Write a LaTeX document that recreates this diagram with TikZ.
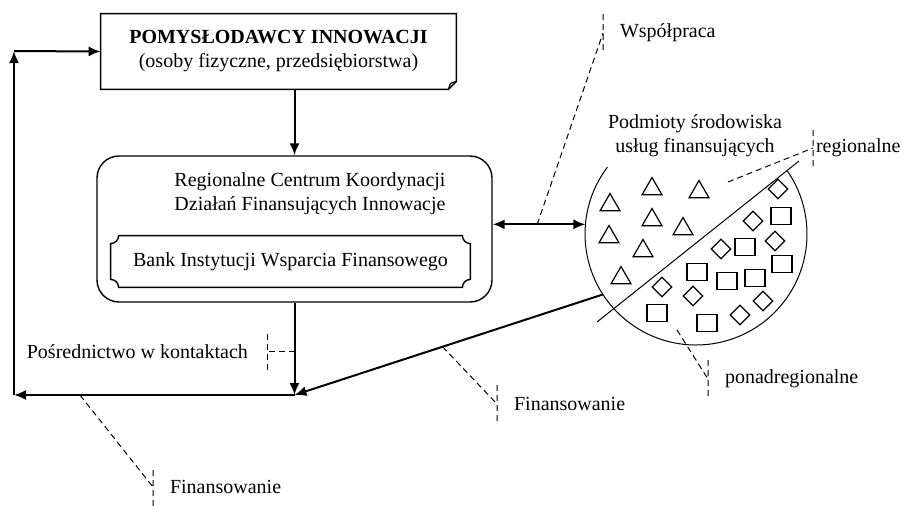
\documentclass[tikz,border=0pt]{standalone}
\usepackage{fontspec}
\setmainfont{Liberation Serif}
\usetikzlibrary{arrows.meta,shapes.geometric}
\tikzset{
 flow/.style={line width=1pt,-{Latex[length=6pt,width=5pt]}},
 twoway/.style={line width=1pt,{Latex[length=6pt,width=5pt]}-{Latex[length=6pt,width=5pt]}},
 leader/.style={dash pattern=on 3pt off 2pt,line width=0.5pt},
 lbl/.style={right,xshift=5pt},
 tri/.style={draw,line width=0.6pt,regular polygon,regular polygon sides=3,minimum size=11.5pt,inner sep=0pt},
 dia/.style={draw,line width=0.6pt,diamond,minimum size=10pt,inner sep=0pt},
 sq/.style={draw,line width=0.6pt,rectangle,minimum width=10pt,minimum height=8.5pt,inner sep=0pt}
}
\begin{document}
\begin{tikzpicture}[x=0.5pt,y=0.5pt]
\useasboundingbox (0,0) rectangle (916,-505);
% boxes
\node[minimum width=177.5pt,minimum height=37.5pt,align=center] (idea) at (278.5,-51.5) {\textbf{POMYSŁODAWCY INNOWACJI}\\(osoby fizyczne, przedsiębiorstwa)};
\draw[line width=0.7pt] (idea.north west) -- (idea.north east) -- ([yshift=4pt]idea.south east) -- ([xshift=-4pt]idea.south east) -- (idea.south west) -- cycle;
\draw[line width=0.6pt] ([yshift=4pt]idea.south east) -- ([xshift=-3pt,yshift=3pt]idea.south east) -- ([xshift=-4pt]idea.south east);
\node[draw,line width=0.7pt,rounded corners=11pt,minimum width=197.5pt,minimum height=73pt] (rcb) at (294.5,-229) {};
\node[align=center] (rcbtext) at (310,-194) {Regionalne Centrum Koordynacji\\Działań Finansujących Innowacje};
\node[minimum width=179.5pt,minimum height=25.5pt] (bank) at (290.5,-261.5) {Bank Instytucji Wsparcia Finansowego};
\draw[line width=0.7pt] ([xshift=4pt]bank.north west) -- ([xshift=-4pt]bank.north east) arc[start angle=180,end angle=270,radius=4pt] -- ([yshift=4pt]bank.south east) arc[start angle=90,end angle=180,radius=4pt] -- ([xshift=4pt]bank.south west) arc[start angle=0,end angle=90,radius=4pt] -- ([yshift=-4pt]bank.north west) arc[start angle=270,end angle=360,radius=4pt] -- cycle;
% pool of financing bodies
\node[circle,minimum size=111pt,inner sep=0pt,outer sep=0pt] (pool) at (696,-234) {};
\draw[line width=0.5pt] (pool.143) arc[start angle=143,end angle=395,radius=55.5pt];
\coordinate (cuta) at (597,-322);\coordinate (cutb) at (799,-161);\draw[line width=0.5pt] (cuta) -- (cutb);
\node[align=center] (pooltitle) at (695,-135.5) {Podmioty środowiska\\usług finansujących};
\node[tri] (t1) at (610,-205) {};\node[tri] (t2) at (652,-189) {};\node[tri] (t3) at (699,-192) {};\node[tri] (t4) at (609,-237) {};
\node[tri] (t5) at (652,-220) {};\node[tri] (t6) at (683,-229) {};\node[tri] (t7) at (643,-251) {};\node[tri] (t8) at (621,-278) {};
\node[dia] (d1) at (778,-189) {};\node[dia] (d2) at (753,-221) {};\node[dia] (d3) at (775,-241) {};\node[dia] (d4) at (721,-249) {};
\node[dia] (d5) at (662,-287) {};\node[dia] (d6) at (693,-296) {};\node[dia] (d7) at (763,-301) {};\node[dia] (d8) at (740,-315) {};
\node[sq] (s1) at (781,-216) {};\node[sq] (s2) at (745,-247) {};\node[sq] (s3) at (782,-264) {};\node[sq] (s4) at (697,-272) {};
\node[sq] (s5) at (727,-281) {};\node[sq] (s6) at (755,-278) {};\node[sq] (s7) at (657,-313) {};\node[sq] (s8) at (707,-323) {};
% connectors
\coordinate (hub) at (rcb.south |- 0,-395);\coordinate (corner) at (14,-395);\coordinate (turn) at (14,-51);
\draw[flow] (idea.south -| rcb.north) -- (rcb.north);
\draw[twoway] (pool.175 -| rcb.east) -- (pool.175) coordinate[pos=0.48] (wspfoot);
\draw[flow] (rcb.south) -- (hub) coordinate[pos=0.53] (posfoot);
\draw[flow] (pool.213) -- (hub) coordinate[pos=0.52] (finmfoot);
\draw[flow] (hub) -- (corner) coordinate[pos=0.765] (finbfoot);
\draw[flow] (corner) -- (turn);
\draw[flow] (turn) -- (idea.west);
% labels
\coordinate (wsp) at (603,-33);\draw[leader] (wspfoot) -- (wsp) (wsp) ++(0,19) -- ++(0,-38);\node[lbl] (wsplbl) at (wsp) {Współpraca};
\coordinate (regfoot) at (728,-182);\coordinate (reg) at (813,-148);\draw[leader] (regfoot) -- (reg) (reg) ++(0,18) -- ++(0,-37);\node[lbl,xshift=-7pt] (reglbl) at (reg) {regionalne};
\coordinate (ponfoot) at (677,-330);\coordinate (pon) at (708,-379);\draw[leader] (ponfoot) -- (pon) (pon) ++(0,19) -- ++(0,-38);\node[lbl] (ponlbl) at (pon) {ponadregionalne};
\coordinate (finm) at (497,-404);\draw[leader] (finmfoot) -- (finm) (finm) ++(0,19) -- ++(0,-38);\node[lbl] (finmlbl) at (finm) {Finansowanie};
\coordinate (pos) at (267,-352);\draw[leader] (posfoot) -- (posfoot -| pos) (pos) ++(0,18) -- ++(0,-37);\node[left,xshift=-6pt] (poslbl) at (pos) {Pośrednictwo w kontaktach};
\coordinate (finb) at (153,-487);\draw[leader] (finbfoot) -- (finb) (finb) ++(0,17) -- ++(0,-36);\node[lbl] (finblbl) at (finb) {Finansowanie};
\end{tikzpicture}
\end{document}
